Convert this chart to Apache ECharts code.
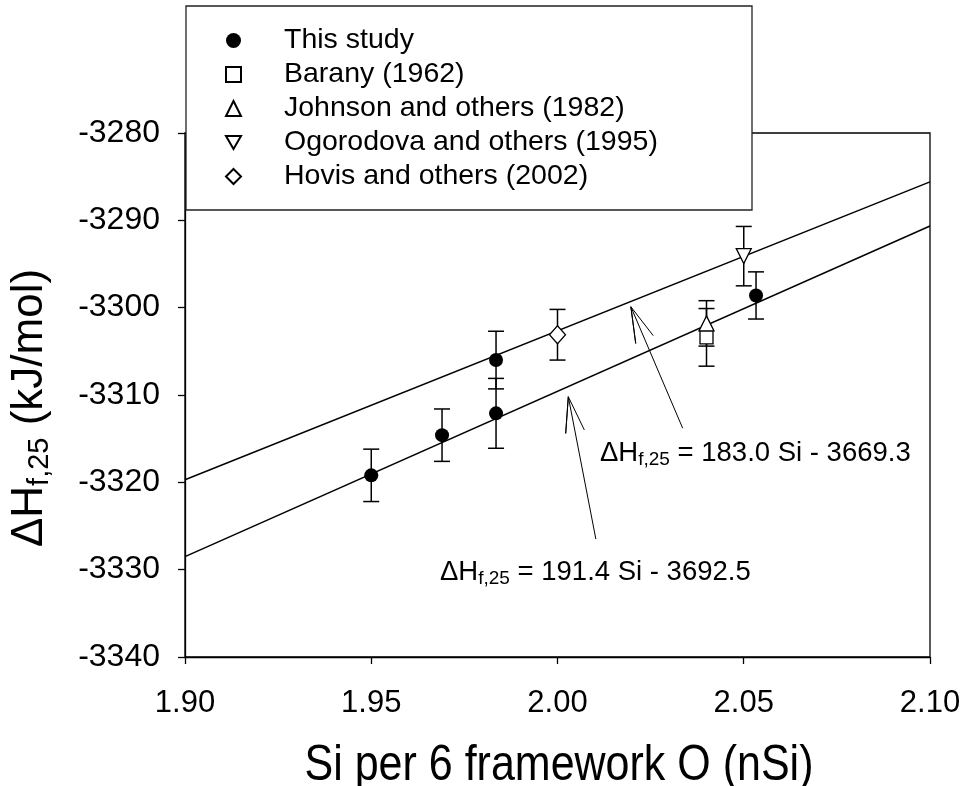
<!DOCTYPE html>
<html>
<head>
<meta charset="utf-8">
<script src="https://cdn.jsdelivr.net/npm/echarts@6/dist/echarts.min.js"></script>
<style>html,body{margin:0;padding:0;background:#fff}#c{width:967px;height:786px}</style>
</head>
<body>
<div id="c"></div>
<script>
// ---- data ----
const seriesNames = ['This study','Barany (1962)','Johnson and others (1982)','Ogorodova and others (1995)','Hovis and others (2002)'];
const studyX = [1.950, 1.969, 1.9835, 1.9835, 2.0533];
const studyY = [-3319.2, -3314.6, -3306.0, -3312.1, -3298.6];
const studyErr = [3.0, 3.0, 3.3, 4.0, 2.7];
const baranyX = [2.040];
const baranyY = [-3303.4];
const baranyErr = [3.3];
const johnsonX = [2.040];
const johnsonY = [-3301.8];
const johnsonErr = [2.6];
const ogorodovaX = [2.050];
const ogorodovaY = [-3294.1];
const ogorodovaErr = [3.4];
const hovisX = [2.000];
const hovisY = [-3303.1];
const hovisErr = [2.9];
// fitted lines (end points)
const fitUpperX = [1.90, 2.10];
const fitUpperY = [-3319.7, -3285.6];
const fitLowerX = [1.90, 2.10];
const fitLowerY = [-3328.5, -3290.65];
// arrows (tail, tip, barb, tip, barb) in data coordinates
const arrowUpperX = [2.0336, 2.0197, 2.0210, 2.0197, 2.0257];
const arrowUpperY = [-3313.8, -3299.9, -3304.1, -3299.9, -3303.2];
const arrowLowerX = [2.0103, 2.0029, 2.0022, 2.0029, 2.0072];
const arrowLowerY = [-3326.5, -3310.2, -3314.4, -3310.2, -3314.0];
const xTicks = [1.90, 1.95, 2.00, 2.05, 2.10];
const yTicks = [-3340, -3330, -3320, -3310, -3300, -3290, -3280];
const xTitle = 'Si per 6 framework O (nSi)';
const yTitle = ['ΔH', 'f,25', ' (kJ/mol)'];
const eqUpper = ['ΔH', 'f,25', ' = 183.0 Si - 3669.3'];
const eqLower = ['ΔH', 'f,25', ' = 191.4 Si - 3692.5'];

const FONT = '"Liberation Sans", Arial, Helvetica, sans-serif';
const zip = (xs, ys) => xs.map((x, i) => [x, ys[i]]);
const errData = (xs, ys, es) => xs.map((x, i) => [x, ys[i] - es[i], ys[i] + es[i]]);
const INV_TRI = 'path://M0,0L2,0L1,1.732Z';

const allErr = [].concat(
  errData(studyX, studyY, studyErr),
  errData(baranyX, baranyY, baranyErr),
  errData(johnsonX, johnsonY, johnsonErr),
  errData(ogorodovaX, ogorodovaY, ogorodovaErr),
  errData(hovisX, hovisY, hovisErr)
);

const chart = echarts.init(document.getElementById('c'), null, {renderer: 'canvas'});
const openStyle = {color: '#fff', borderColor: '#000', borderWidth: 1.3, opacity: 1};
const lineSeries = (xs, ys, w) => ({
  type: 'line', data: zip(xs, ys), symbol: 'none', silent: true,
  lineStyle: {color: '#000', width: w}, z: 3, animation: false
});
const richEq = (parts) => '{a|' + parts[0] + '}{s|' + parts[1] + '}{a|' + parts[2] + '}';

const option = {
  animation: false,
  backgroundColor: '#fff',
  grid: {left: 185, right: 37, top: 133, bottom: 129, show: true, borderColor: '#000', borderWidth: 1.3, backgroundColor: 'transparent'},
  xAxis: {
    type: 'value', min: 1.90, max: 2.10, interval: 0.05,
    axisLine: {show: true, lineStyle: {color: '#000', width: 1.3}},
    axisTick: {show: true, inside: false, length: 7, lineStyle: {color: '#000', width: 1.3}},
    splitLine: {show: false},
    axisLabel: {color: '#000', fontSize: 31, fontFamily: FONT, margin: 31, formatter: v => v.toFixed(2)}
  },
  yAxis: {
    type: 'value', min: -3340, max: -3280, interval: 10,
    axisLine: {show: true, lineStyle: {color: '#000', width: 1.3}},
    axisTick: {show: true, inside: false, length: 7, lineStyle: {color: '#000', width: 1.3}},
    splitLine: {show: false},
    axisLabel: {color: '#000', fontSize: 32, fontFamily: FONT, margin: 25, formatter: v => String(v)}
  },
  legend: {
    orient: 'vertical', left: 225, top: 26, padding: 0,
    itemWidth: 15, itemHeight: 15, itemGap: 5,
    textStyle: {color: '#000', fontSize: 28.5, fontFamily: FONT, lineHeight: 28.5, padding: [0, 0, 0, 38]},
    data: seriesNames, selectedMode: false, z: 101
  },
  graphic: [
    {type: 'rect', z: 100, shape: {x: 186, y: 6, width: 566, height: 204}, style: {fill: '#fff', stroke: '#222', lineWidth: 1.3}},
    {type: 'text', z: 50, x: 600, y: 453, style: {
      text: richEq(eqUpper), verticalAlign: 'middle', align: 'left',
      rich: {a: {fontSize: 27.5, fontFamily: FONT, fill: '#000'}, s: {fontSize: 19, fontFamily: FONT, fill: '#000', padding: [13, 0, 0, 0]}}
    }},
    {type: 'text', z: 50, x: 440, y: 572, style: {
      text: richEq(eqLower), verticalAlign: 'middle', align: 'left',
      rich: {a: {fontSize: 27.5, fontFamily: FONT, fill: '#000'}, s: {fontSize: 19, fontFamily: FONT, fill: '#000', padding: [13, 0, 0, 0]}}
    }},
    {type: 'text', z: 50, x: 559, y: 766, scaleY: 1.18, style: {
      text: xTitle, verticalAlign: 'middle', align: 'center', fontSize: 43, fontFamily: FONT, fill: '#000'
    }},
    {type: 'text', z: 50, x: 30, y: 408, rotation: Math.PI / 2, style: {
      text: richEq(yTitle), verticalAlign: 'middle', align: 'center',
      rich: {a: {fontSize: 44, fontFamily: FONT, fill: '#000'}, s: {fontSize: 29, fontFamily: FONT, fill: '#000', padding: [20, 0, 0, 0]}}
    }}
  ],
  series: [
    lineSeries(fitUpperX, fitUpperY, 1.5),
    lineSeries(fitLowerX, fitLowerY, 1.5),
    lineSeries(arrowUpperX, arrowUpperY, 1),
    lineSeries(arrowLowerX, arrowLowerY, 1),
    {
      type: 'custom', silent: true, z: 4,
      data: allErr,
      encode: {x: 0, y: [1, 2]},
      renderItem: function (params, api) {
        const x = api.value(0), lo = api.value(1), hi = api.value(2);
        const pT = api.coord([x, hi]), pB = api.coord([x, lo]);
        const hw = 8;
        const st = {stroke: '#000', lineWidth: 1.5};
        return {type: 'group', children: [
          {type: 'line', shape: {x1: pT[0], y1: pT[1], x2: pB[0], y2: pB[1]}, style: st},
          {type: 'line', shape: {x1: pT[0] - hw, y1: pT[1], x2: pT[0] + hw, y2: pT[1]}, style: st},
          {type: 'line', shape: {x1: pB[0] - hw, y1: pB[1], x2: pB[0] + hw, y2: pB[1]}, style: st}
        ]};
      }
    },
    {name: seriesNames[0], type: 'scatter', data: zip(studyX, studyY), symbol: 'circle', symbolSize: 14, itemStyle: {color: '#000', opacity: 1}, z: 5},
    {name: seriesNames[1], type: 'scatter', data: zip(baranyX, baranyY), symbol: 'rect', symbolSize: 13, itemStyle: openStyle, z: 5},
    {name: seriesNames[2], type: 'scatter', data: zip(johnsonX, johnsonY), symbol: 'triangle', symbolSize: 15, itemStyle: openStyle, z: 6},
    {name: seriesNames[3], type: 'scatter', data: zip(ogorodovaX, ogorodovaY), symbol: INV_TRI, symbolSize: 15, itemStyle: openStyle, z: 5},
    {name: seriesNames[4], type: 'scatter', data: zip(hovisX, hovisY), symbol: 'diamond', symbolSize: [16, 18], itemStyle: openStyle, z: 5}
  ]
};
chart.setOption(option);
</script>
</body>
</html>
